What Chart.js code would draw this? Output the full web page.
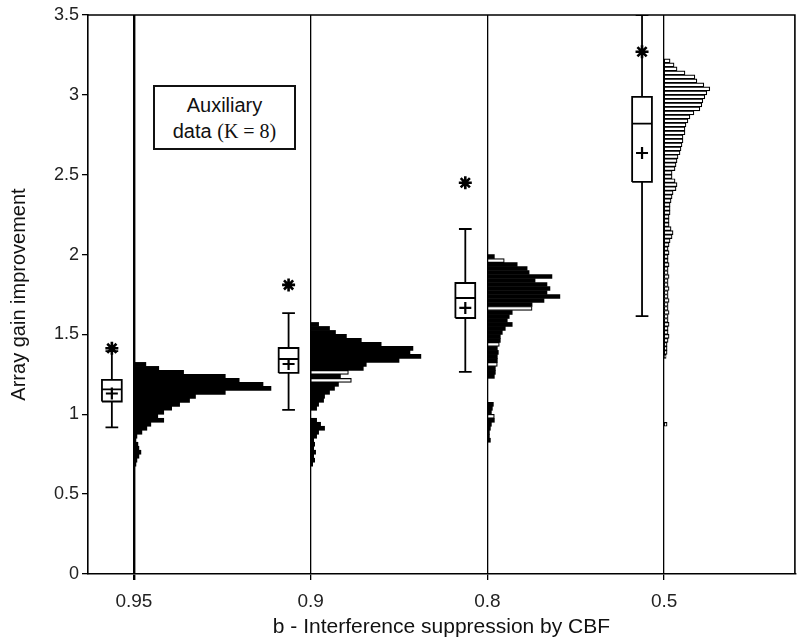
<!DOCTYPE html>
<html>
<head>
<meta charset="utf-8">
<script src="https://cdn.jsdelivr.net/npm/chart.js@4.4.1/dist/chart.umd.min.js"></script>
<style>
  html, body { margin: 0; padding: 0; background: #fff; }
  #wrap { position: relative; width: 804px; height: 641px; }
  #note {
    position: absolute; left: 153px; top: 85px; width: 143px; height: 65px;
    box-sizing: border-box; border: 2px solid #111; background: #fff;
    display: flex; flex-direction: column; justify-content: center; align-items: center;
    font-family: 'Liberation Sans', Arial, sans-serif; font-size: 20px; line-height: 26px; color: #111;
  }
  #note .k { font-family: 'Liberation Serif', 'Times New Roman', serif; font-size: 20px; }
</style>
</head>
<body>
<div id="wrap">
  <canvas id="grafGanho" width="804" height="641"></canvas>
  <div id="note"><span>Auxiliary</span><span>data <span class="k">(K = 8)</span></span></div>
</div>
<script>
// Array gain improvement vs. interference suppression b:
// box plot on the left of each b line, histogram growing to the right of it.

const GROUPS  = ['0.95', '0.9', '0.8', '0.5'];
const GROUP_X = [0, 1, 2, 3];
const Y_TICKS = [0, 0.5, 1, 1.5, 2, 2.5, 3, 3.5];

// box plot summaries, one entry per b value
const whiskerLow  = [0.918, 1.027, 1.265, 1.615];
const quart1      = [1.080, 1.259, 1.603, 2.455];
const median      = [1.156, 1.346, 1.728, 2.820];
const mean        = [1.130, 1.315, 1.666, 2.636];
const quart3      = [1.215, 1.415, 1.822, 2.987];
const whiskerHigh = [1.395, 1.634, 2.160, 3.500];
const outlier     = [1.413, 1.810, 2.450, 3.270];

// histograms: counts per 0.025 bin, listed from the top bin (histTop) downwards
const BIN = 0.025;
const histTop = [1.3125, 1.5625, 1.9875, 3.2125];
const hist95 = [12, 25, 50, 92, 106, 130, 138, 92, 62, 56, 46, 38, 30, 24, 30, 17, 13, 8, 3, 2, 4, 5, 7, 5, 3, 2];
const hist90 = [8, 19, 25, 36, 51, 71, 103, 100, 111, 89, 56, 53, 38, 30, 41, 28, 24, 19, 14, 13, 8, 6, 0, 0,
                6, 10, 14, 8, 6, 3, 4, 3, 5, 3, 4, 2];
const hist80 = [7, 17, 30, 40, 42, 65, 48, 60, 63, 60, 73, 57, 45, 45, 25, 22, 20, 25, 18, 15, 13, 13, 12, 10,
                11, 10, 10, 10, 8, 8, 7, 0, 0, 0, 0, 0, 0, 6, 5, 4, 7, 7, 4, 3, 2, 2, 3];
const hist50 = [6, 10, 13, 21, 31, 33, 40, 46, 43, 41, 39, 38, 36, 30, 26, 24, 22, 21, 21, 19, 19, 18, 17, 16,
                14, 13, 12, 11, 8, 8, 11, 13, 12, 9, 8, 7, 6, 6, 6, 5, 5, 5, 7, 9, 8, 6, 5, 4, 5, 4,
                4, 5, 4, 4, 5, 4, 4, 5, 4, 4, 5, 4, 4, 5, 4, 4, 5, 4, 4, 5, 4, 3, 3, 3, 2,
                0, 0, 0, 0, 0, 0, 0, 0, 0, 0, 0, 0, 0, 0, 0, 0, 3];
const HISTS = [hist95, hist90, hist80, hist50];
// bins drawn as open (outlined) bars
const hollow95 = [];
const hollow90 = [1.2625, 1.2125];
const hollow80 = [1.9625, 1.6625, 1.4375, 1.3125, 0.9875];
const HOLLOW = [hollow95, hollow90, hollow80, null];   // null = all open

const HIST_SCALE = 1 / 178;   // x units per count
const BOX_SHIFT = 0.125, HALF_BOX = 0.056, HALF_CAP = 0.036;

Chart.defaults.font.family = "'Liberation Sans', Arial, sans-serif";
Chart.defaults.color = '#111';

function histData(g) {
  const out = [];
  HISTS[g].forEach((c, i) => {
    if (!c) return;
    const y = +(histTop[g] - i * BIN).toFixed(4);
    out.push({ y: y, x: [GROUP_X[g], GROUP_X[g] + c * HIST_SCALE] });
  });
  return out;
}

function isOpen(g, y) {
  return HOLLOW[g] === null || HOLLOW[g].indexOf(y) >= 0;
}

function boxPath(g) {
  const c = GROUP_X[g] - BOX_SHIFT;
  const gap = { x: c, y: null };
  const l = c - HALF_BOX, r = c + HALF_BOX;
  return [
    { x: l, y: quart1[g] }, { x: r, y: quart1[g] }, { x: r, y: quart3[g] }, { x: l, y: quart3[g] }, { x: l, y: quart1[g] }, gap,
    { x: l, y: median[g] }, { x: r, y: median[g] }, gap,
    { x: c, y: quart3[g] }, { x: c, y: whiskerHigh[g] }, gap,
    { x: c - HALF_CAP, y: whiskerHigh[g] }, { x: c + HALF_CAP, y: whiskerHigh[g] }, gap,
    { x: c, y: quart1[g] }, { x: c, y: whiskerLow[g] }, gap,
    { x: c - HALF_CAP, y: whiskerLow[g] }, { x: c + HALF_CAP, y: whiskerLow[g] }
  ];
}

const datasets = [];

GROUP_X.forEach((gx, g) => {
  datasets.push({
    type: 'scatter',
    data: boxPath(g),
    showLine: true,
    spanGaps: false,
    pointRadius: 0,
    borderColor: '#000',
    borderWidth: 1.8,
    borderJoinStyle: 'miter',
    order: 0
  });
});

datasets.push({
  type: 'scatter',
  data: GROUP_X.map((gx, g) => ({ x: gx - BOX_SHIFT, y: mean[g] })),
  pointStyle: 'cross',
  pointRadius: 6,
  borderWidth: 2.2,
  borderColor: '#000',
  order: 0
});

datasets.push({
  type: 'scatter',
  data: GROUP_X.map((gx, g) => ({ x: gx - BOX_SHIFT, y: outlier[g] })),
  pointStyle: 'star',
  pointRadius: 6.5,
  borderWidth: 2.6,
  borderColor: '#000',
  order: 0
});

GROUP_X.forEach((gx, g) => {
  datasets.push({
    type: 'bar',
    indexAxis: 'y',
    grouped: false,
    data: histData(g),
    categoryPercentage: 1,
    barPercentage: 1,
    borderSkipped: false,
    backgroundColor: (ctx) => (ctx.raw && isOpen(g, ctx.raw.y)) ? '#fff' : '#000',
    borderColor: '#000',
    borderWidth: (ctx) => (ctx.raw && isOpen(g, ctx.raw.y)) ? 1.2 : 0,
    order: 1
  });
});

// closes the plot frame on top and right
const frame = {
  id: 'frame',
  afterDraw(chart) {
    const { ctx, chartArea: a } = chart;
    ctx.save();
    ctx.strokeStyle = '#000';
    ctx.lineWidth = 1.6;
    ctx.beginPath();
    ctx.moveTo(a.left, a.top);
    ctx.lineTo(a.right, a.top);
    ctx.lineTo(a.right, a.bottom);
    ctx.stroke();
    ctx.restore();
  }
};

new Chart(document.getElementById('grafGanho'), {
  type: 'scatter',
  data: { datasets: datasets },
  plugins: [frame],
  options: {
    responsive: false,
    animation: false,
    events: [],
    layout: { padding: { top: 15, right: 1, left: 0, bottom: 0 } },
    plugins: { legend: { display: false }, tooltip: { enabled: false } },
    scales: {
      x: {
        type: 'linear',
        min: -0.26,
        max: 3.74,
        offset: false,
        afterBuildTicks: (s) => { s.ticks = GROUP_X.map(v => ({ value: v })); },
        afterFit: (s) => { s.height = 67; },
        ticks: {
          callback: (v, i) => GROUPS[i],
          autoSkip: false,
          maxRotation: 0,
          padding: 10,
          color: '#222',
          font: { size: 19 }
        },
        grid: {
          color: '#000',
          lineWidth: (c) => c.index === 0 ? 2.4 : 1.3,
          tickLength: 6,
          offset: false
        },
        border: { color: '#000', width: 1.6 },
        title: {
          display: true,
          text: 'b - Interference suppression by CBF',
          font: { size: 21 },
          padding: { top: 0, bottom: 1 }
        }
      },
      y: {
        type: 'linear',
        min: 0,
        max: 3.5,
        offset: false,
        afterBuildTicks: (s) => { s.ticks = Y_TICKS.map(v => ({ value: v })); },
        afterFit: (s) => { s.width = 88; },
        ticks: {
          callback: (v) => String(v),
          padding: 3,
          color: '#222',
          font: { size: 18 }
        },
        grid: {
          drawOnChartArea: false,
          color: '#000',
          lineWidth: 1.3,
          tickLength: 6,
          offset: false
        },
        border: { color: '#000', width: 1.6 },
        title: {
          display: true,
          text: 'Array gain improvement',
          font: { size: 20 },
          padding: { top: 7, bottom: 0 }
        }
      }
    }
  }
});
</script>
</body>
</html>
